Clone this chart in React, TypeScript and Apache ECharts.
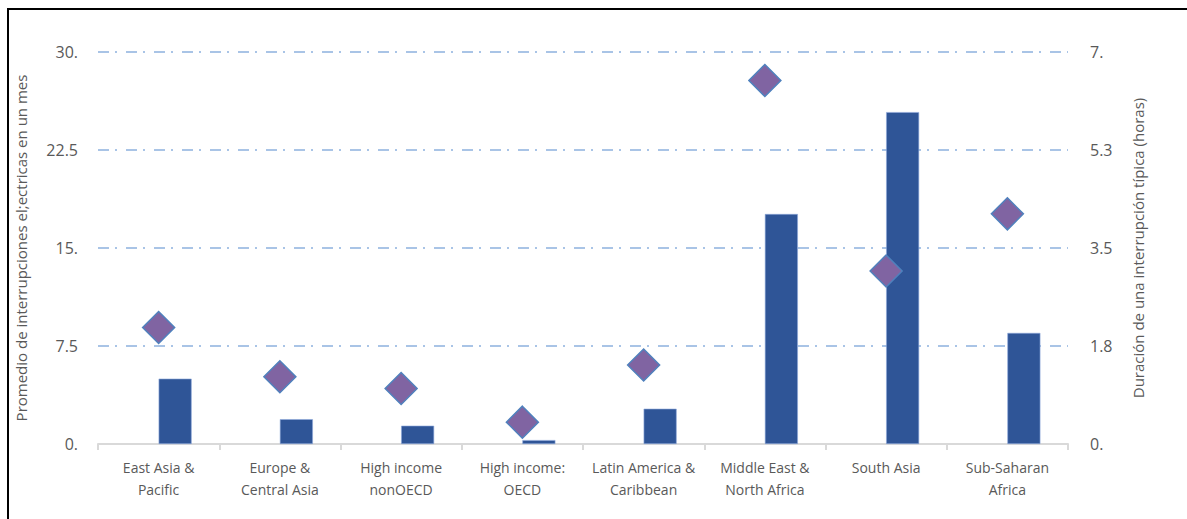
import React, { useEffect, useRef } from "react";
import * as echarts from "echarts";

const categories = [
  "East Asia &\nPacific",
  "Europe &\nCentral Asia",
  "High income\nnonOECD",
  "High income:\nOECD",
  "Latin America &\nCaribbean",
  "Middle East &\nNorth Africa",
  "South Asia",
  "Sub-Saharan\nAfrica",
];
const outagesPerMonth = [5.0, 1.9, 1.4, 0.3, 2.7, 17.6, 25.4, 8.5];
const outageDurationHours = [2.08, 1.2, 0.99, 0.39, 1.41, 6.49, 3.09, 4.11];
const leftTickLabels = ["0.", "7.5", "15.", "22.5", "30."];
const rightTickLabels = ["0.", "1.8", "3.5", "5.3", "7."];
const leftTitle = "Promedio de interrupciones el;ectricas en un mes";
const rightTitle = "Duración de una interrupción típica (horas)";

const FONT = "'Open Sans', 'Noto Sans', sans-serif";

export default function App() {
  const ref = useRef<HTMLDivElement>(null);
  useEffect(() => {
    document.body.style.margin = "0";
    const chart = echarts.init(ref.current!, null, { renderer: "svg" });
    chart.setOption({
      animation: false,
      backgroundColor: "#ffffff",
      grid: { left: 98, right: 119, top: 52, bottom: 75, containLabel: false },
      xAxis: {
        type: "category",
        data: categories,
        axisLine: { lineStyle: { color: "#D9D9D9", width: 2 } },
        axisTick: { show: true, length: 6, lineStyle: { color: "#D9D9D9", width: 2 } },
        axisLabel: {
          color: "#595959",
          fontFamily: FONT,
          fontSize: 14,
          lineHeight: 22,
          margin: 12,
          interval: 0,
        },
      },
      yAxis: [
        {
          type: "value",
          min: 0,
          max: 30,
          interval: 7.5,
          axisLine: { show: false },
          axisTick: { show: false },
          axisLabel: {
            color: "#595959",
            fontFamily: FONT,
            fontSize: 16,
            margin: 20,
            formatter: (_v: number, i: number) => leftTickLabels[i],
          },
          splitLine: {
            show: true,
            lineStyle: { color: "#A9C4E6", width: 2, type: [11, 6, 2, 9] },
          },
          name: leftTitle,
          nameLocation: "middle",
          nameRotate: 90,
          nameGap: 70,
          nameTextStyle: { color: "#595959", fontFamily: FONT, fontSize: 15 },
        },
        {
          type: "value",
          min: 0,
          max: 7,
          interval: 1.75,
          position: "right",
          axisLine: { show: false },
          axisTick: { show: false },
          splitLine: { show: false },
          axisLabel: {
            color: "#595959",
            fontFamily: FONT,
            fontSize: 16,
            margin: 22,
            formatter: (_v: number, i: number) => rightTickLabels[i],
          },
          name: rightTitle,
          nameLocation: "middle",
          nameRotate: 90,
          nameGap: 62,
          nameTextStyle: { color: "#595959", fontFamily: FONT, fontSize: 15 },
        },
      ],
      series: [
        {
          type: "bar",
          yAxisIndex: 0,
          data: categories.map(() => null),
          barWidth: 33,
          barGap: "0%",
        },
        {
          type: "bar",
          yAxisIndex: 0,
          data: outagesPerMonth,
          barWidth: 33,
          barGap: "0%",
          itemStyle: { color: "#2F5597", borderColor: "#8EA9DB", borderWidth: 0.6 },
        },
        {
          type: "scatter",
          yAxisIndex: 1,
          data: outageDurationHours,
          symbol: "diamond",
          symbolSize: [32, 32],
          itemStyle: { color: "#8064A2", borderColor: "#4F81BD", borderWidth: 1.5, opacity: 1 },
          z: 5,
        },
      ],
      graphic: [
        {
          type: "polyline",
          shape: { points: [[8, 519], [8, 9], [1187, 9]] },
          style: { stroke: "#000000", lineWidth: 2, fill: "none" },
          silent: true,
        },
      ],
    });
    return () => chart.dispose();
  }, []);
  return <div ref={ref} style={{ width: 1187, height: 519 }} />;
}
